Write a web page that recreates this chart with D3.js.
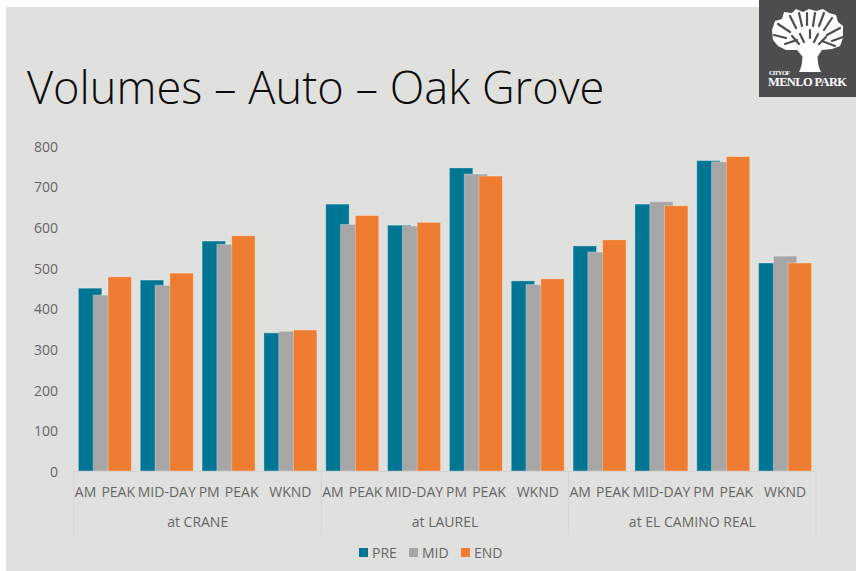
<!DOCTYPE html>
<html><head><meta charset="utf-8">
<script src="https://cdn.jsdelivr.net/npm/d3@7"></script>
<style>html,body{margin:0;padding:0;background:#fff}svg{display:block}text{font-family:"Open Sans",sans-serif}</style>
</head><body><svg id="c" width="856" height="571"></svg>
<script>
const categories=["AM PEAK","MID-DAY","PM PEAK","WKND","AM PEAK","MID-DAY","PM PEAK","WKND","AM PEAK","MID-DAY","PM PEAK","WKND"];
const groups=["at CRANE","at LAUREL","at EL CAMINO REAL"];
const seriesNames=["PRE","MID","END"];
const colors=["#007694","#a6a6a6","#ee7d31"];
const PRE=[450,470,566,340,657,605,746,468,554,657,764,512];
const MID=[433,457,558,344,607,603,731,459,539,663,761,529];
const END=[478,487,579,347,629,612,726,473,569,653,774,512];
const yTicks=[0,100,200,300,400,500,600,700,800];
const values=[PRE,MID,END];

const svg=d3.select("#c");
svg.append("rect").attr("x",6).attr("y",7).attr("width",850).attr("height",564).attr("fill","#e0e0de");

const x=d3.scaleBand().domain(d3.range(categories.length)).range([74,816]);
const gx=d3.scaleBand().domain(groups).range([74,816]);
const y=d3.scaleLinear().domain([0,800]).range([471,146]);
const step=14.8,bw=23.4;
const off=d3.scaleLinear().domain([0,2]).range([-step-bw/2,step-bw/2]);

svg.append("text").attr("x",27).attr("y",104).attr("font-size",45.2).style("font-weight",300).attr("fill","#0c0c0c").text("Volumes – Auto – Oak Grove");

const ya=svg.append("g").attr("transform","translate(60,0.8)").call(d3.axisLeft(y).tickValues(yTicks).tickSize(0).tickPadding(2));
ya.select(".domain").remove();
ya.selectAll("text").attr("font-size",14).attr("fill","#666").style("font-family",'"Open Sans",sans-serif');

values.forEach((vals,s)=>{
  svg.append("g").selectAll("rect").data(vals).join("rect")
    .attr("x",(d,i)=>x(i)+x.bandwidth()/2+off(s))
    .attr("y",d=>y(d)).attr("width",bw).attr("height",d=>y(0)-y(d))
    .attr("fill",colors[s]).attr("stroke","#fff").attr("stroke-opacity",.3).attr("stroke-width",1);
});

const xa=svg.append("g").attr("transform","translate(0,471)").call(d3.axisBottom(x).tickFormat(i=>categories[i]).tickSize(0).tickPadding(16));
xa.select(".domain").attr("stroke","#d3d3d1");
xa.selectAll("text").attr("font-size",14).attr("fill","#666").style("font-family",'"Open Sans",sans-serif').style("word-spacing","1.5px");
const ga=svg.append("g").attr("transform","translate(0,471)").call(d3.axisBottom(gx).tickSize(0).tickPadding(46));
ga.select(".domain").remove();
ga.selectAll("text").attr("font-size",14).attr("fill","#666").style("font-family",'"Open Sans",sans-serif');
svg.append("g").selectAll("line").data(d3.range(groups.length+1)).join("line")
  .attr("x1",i=>74+i*gx.bandwidth()).attr("x2",i=>74+i*gx.bandwidth())
  .attr("y1",471).attr("y2",535).attr("stroke","#d3d3d1").attr("stroke-width",1);

const legX=[359,409,461];
const leg=svg.append("g").selectAll("g").data(seriesNames).join("g").attr("transform",(d,i)=>`translate(${legX[i]},548)`);
leg.append("rect").attr("width",9).attr("height",9).attr("fill",(d,i)=>colors[i]);
leg.append("text").attr("x",13).attr("y",9.5).attr("font-size",14).attr("fill","#666").text(d=>d);

// logo
const lg=svg.append("g");
lg.append("rect").attr("x",759).attr("y",0).attr("width",97).attr("height",97).attr("fill","#4d4d4f");
lg.append("path").attr("d","M772,30 L775,21 L782,19 L784,12 L792,13 L796,9 L803,12 L809,9 L816,11 L823,9 L829,13 L836,15 L838,22 L843,26 L843,38 L840,46 L832,49 L822,50 L818,56 L802,56 L797,50 L786,50 L778,46 L773,40 Z").attr("fill","#fff");
const gaps=["M790,16 L796,28","M799,13 L802,26","M807,13 L807,25","M815,13 L813,26","M824,13 L819,26","M832,18 L824,30",
 "M778,24 L790,32","M840,28 L827,35","M774,35 L786,38","M843,37 L832,41","M785,44 L797,40","M835,46 L822,41",
 "M800,34 L804,42","M818,34 L814,42","M810,30 L810,38","M792,36 L799,44","M826,37 L819,44"];
lg.append("g").selectAll("path").data(gaps).join("path").attr("d",d=>d)
  .attr("fill","none").attr("stroke","#4d4d4f").attr("stroke-width",2.2).attr("stroke-linecap","round");
lg.append("path").attr("d","M799,72 C802,66 803,60 802,50 L818,50 C817,60 818,66 821,72 Z").attr("fill","#fff");
lg.append("text").attr("x",769).attr("y",75).attr("font-size",6.5).attr("textLength",21).style("font-family","'Liberation Serif',serif").style("font-weight",700).attr("fill","#fff").text("CITY OF");
lg.append("text").attr("x",768).attr("y",86).attr("font-size",12.5).attr("textLength",79).style("font-family","'Liberation Serif',serif").style("font-weight",700).attr("fill","#fff").text("MENLO PARK");
</script></body></html>
